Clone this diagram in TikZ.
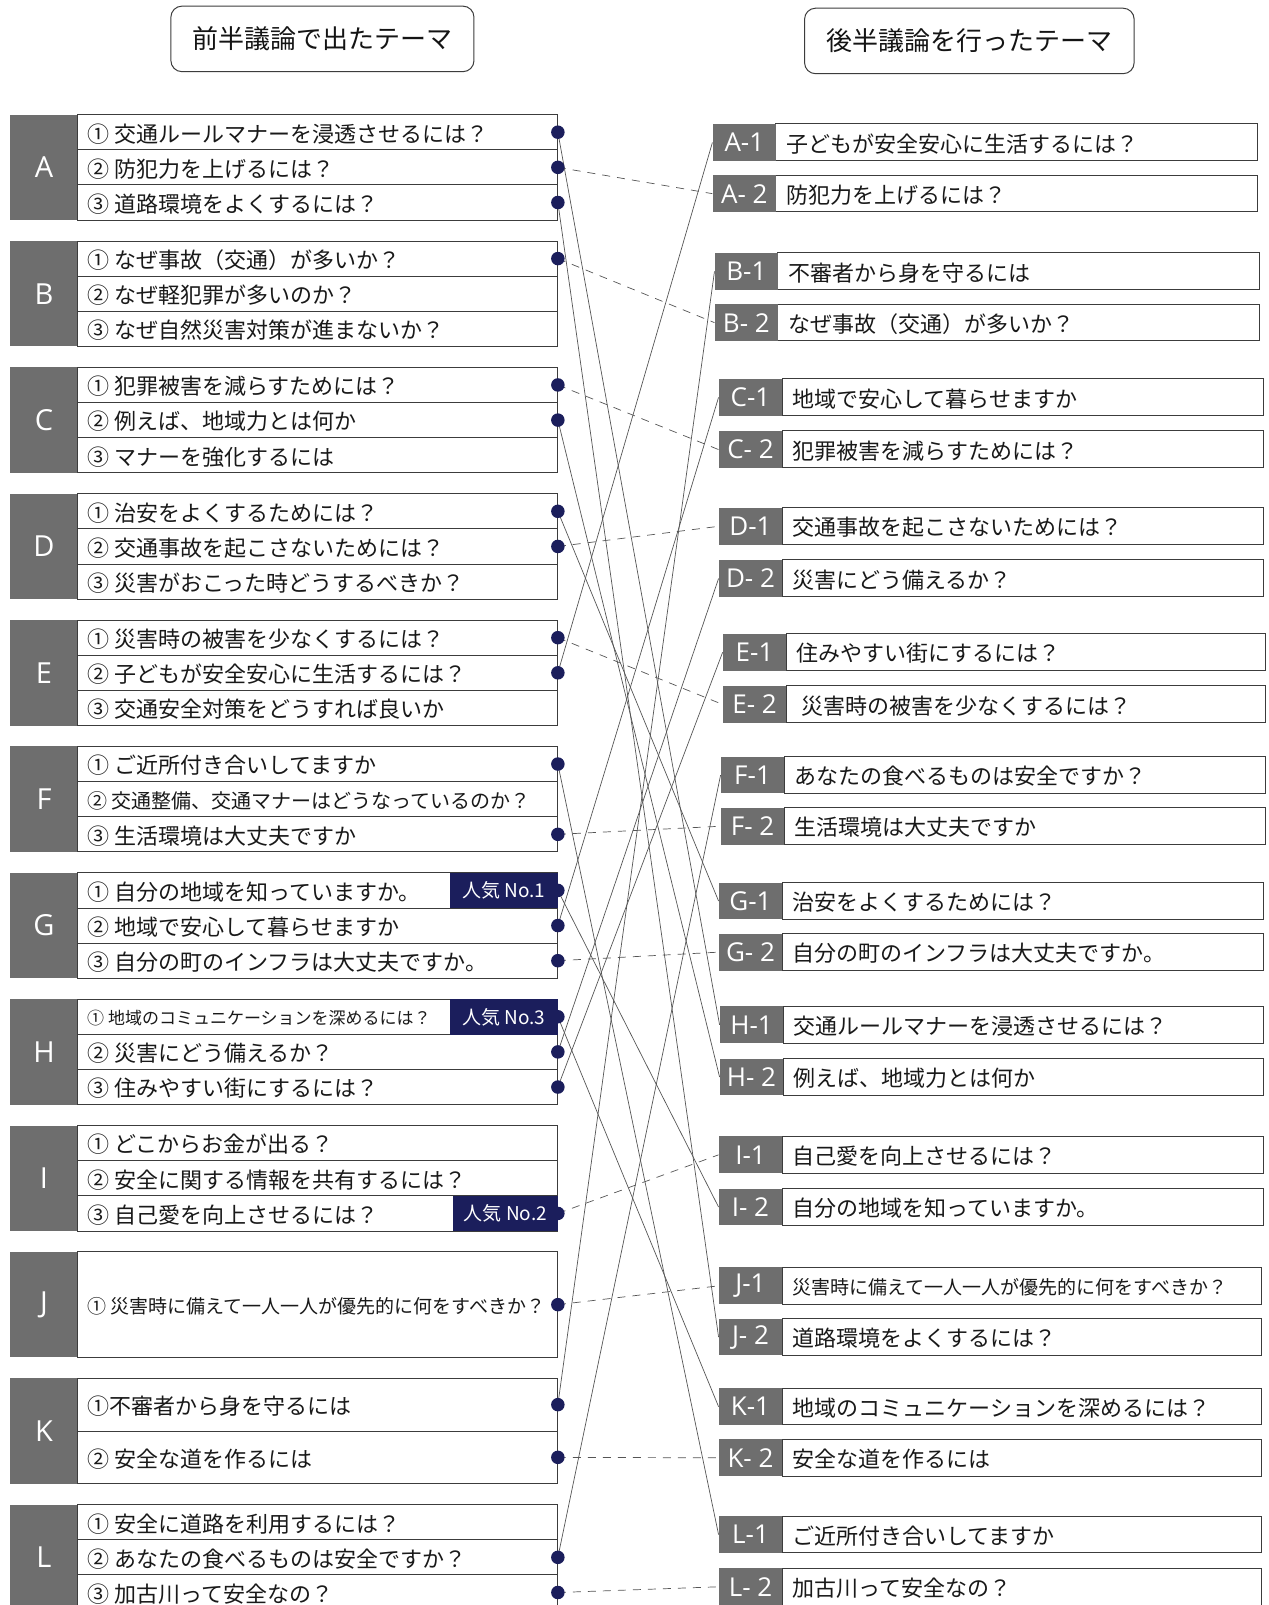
\documentclass[tikz,border=0pt]{standalone}
\usepackage{fontspec}
\setmainfont{Noto Sans CJK JP}
\newfontfamily\latf{Open Sans}
\definecolor{labgray}{RGB}{110,110,110}
\definecolor{navy}{RGB}{27,30,92}
\definecolor{boxline}{RGB}{60,60,60}
\definecolor{conngray}{RGB}{85,85,85}
\pgfdeclarelayer{dots}
\pgfdeclarelayer{badges}
\pgfsetlayers{main,dots,badges}
\tikzset{
  rowbox/.style={draw=boxline, line width=0.9pt, fill=white},
  itemtext/.style={anchor=west, inner sep=0pt, text=black!90, yshift=-1.5pt},
  biglet/.style={text=white, font=\latf\fontsize{29}{29}\selectfont},
  rlab/.style={fill=labgray, text=white, font=\latf\fontsize{26}{26}\selectfont, minimum width=63.45pt, minimum height=36.84pt, inner sep=0pt, anchor=north west},
  dotn/.style={circle, fill=navy, minimum size=13.5pt, inner sep=0pt},
  badge/.style={fill=navy, text=white, font=\fontsize{19}{19}\selectfont, minimum height=35.1pt, inner sep=0pt, anchor=north east},
  conn/.style={draw=conngray, line width=0.7pt},
  dconn/.style={conn, dash pattern=on 8pt off 7pt},
  head/.style={draw=boxline, line width=1pt, rounded corners=11pt, minimum height=65.5pt, font=\fontsize{26}{26}\selectfont, text=black!92},
}
% left group label
\newcommand\lgrpbox[2]{%
  \fill[labgray] (10,#2) rectangle (76,#2+103);
  \node[biglet] (G#1) at (43,#2+51.5) {#1};
}
% left row: name, top, height, fontsize, text
\newcommand\lrowbox[5]{%
  \draw[rowbox] (76,#2) rectangle (545,#2+#3);
  \node[itemtext, font=\fontsize{#4}{#4}\selectfont] (L#1) at (85,#2+#3/2) {#5};
  \coordinate (P#1) at (545,#2+#3/2);
}
% right box: name, label, xleft, ytop, xright, fontsize, text
\newcommand\rgtbox[7]{%
  \draw[rowbox] (#3+62,#4) rectangle (#5,#4+36);
  \node[rlab] (R#1) at (#3,#4) {#2};
  \node[itemtext, font=\fontsize{#6}{#6}\selectfont] (T#1) at (#3+72,#4+18) {#7};
}
\begin{document}
\begin{tikzpicture}[x=1.0234pt, y=-1.0234pt]
\useasboundingbox[fill=white] (0,0) rectangle (1239,1568);

% headers
\node[head, minimum width=303pt] (h1) at (315,38) {前半議論で出たテーマ};
\node[head, minimum width=329.5pt] (h2) at (947,40) {後半議論を行ったテーマ};

% ---------- left column ----------
\lgrpbox{A}{112}
\lrowbox{A1}{112}{34.333}{22}{① 交通ルールマナーを浸透させるには？}
\lrowbox{A2}{146.333}{34.333}{22}{② 防犯力を上げるには？}
\lrowbox{A3}{180.667}{34.333}{22}{③ 道路環境をよくするには？}

\lgrpbox{B}{235.45}
\lrowbox{B1}{235.45}{34.333}{22}{① なぜ事故（交通）が多いか？}
\lrowbox{B2}{269.78}{34.333}{22}{② なぜ軽犯罪が多いのか？}
\lrowbox{B3}{304.12}{34.333}{22}{③ なぜ自然災害対策が進まないか？}

\lgrpbox{C}{358.9}
\lrowbox{C1}{358.9}{34.333}{22}{① 犯罪被害を減らすためには？}
\lrowbox{C2}{393.23}{34.333}{22}{② 例えば、地域力とは何か}
\lrowbox{C3}{427.57}{34.333}{22}{③ マナーを強化するには}

\lgrpbox{D}{482.35}
\lrowbox{D1}{482.35}{34.333}{22}{① 治安をよくするためには？}
\lrowbox{D2}{516.68}{34.333}{22}{② 交通事故を起こさないためには？}
\lrowbox{D3}{551.02}{34.333}{22}{③ 災害がおこった時どうするべきか？}

\lgrpbox{E}{605.8}
\lrowbox{E1}{605.8}{34.333}{22}{① 災害時の被害を少なくするには？}
\lrowbox{E2}{640.13}{34.333}{22}{② 子どもが安全安心に生活するには？}
\lrowbox{E3}{674.47}{34.333}{22}{③ 交通安全対策をどうすれば良いか}

\lgrpbox{F}{729.25}
\lrowbox{F1}{729.25}{34.333}{22}{① ご近所付き合いしてますか}
\lrowbox{F2}{763.58}{34.333}{20}{② 交通整備、交通マナーはどうなっているのか？}
\lrowbox{F3}{797.92}{34.333}{22}{③ 生活環境は大丈夫ですか}

\lgrpbox{G}{852.7}
\lrowbox{G1}{852.7}{34.333}{22}{① 自分の地域を知っていますか。}
\lrowbox{G2}{887.03}{34.333}{22}{② 地域で安心して暮らせますか}
\lrowbox{G3}{921.37}{34.333}{22}{③ 自分の町のインフラは大丈夫ですか。}

\lgrpbox{H}{976.15}
\lrowbox{H1}{976.15}{34.333}{17}{① 地域のコミュニケーションを深めるには？}
\lrowbox{H2}{1010.48}{34.333}{22}{② 災害にどう備えるか？}
\lrowbox{H3}{1044.82}{34.333}{22}{③ 住みやすい街にするには？}

\lgrpbox{I}{1099.6}
\lrowbox{I1}{1099.6}{34.333}{22}{① どこからお金が出る？}
\lrowbox{I2}{1133.93}{34.333}{22}{② 安全に関する情報を共有するには？}
\lrowbox{I3}{1168.27}{34.333}{22}{③ 自己愛を向上させるには？}

\lgrpbox{J}{1223.05}
\lrowbox{J1}{1223.05}{103}{19}{① 災害時に備えて一人一人が優先的に何をすべきか？}

\lgrpbox{K}{1346.5}
\lrowbox{K1}{1346.5}{51.5}{22}{①不審者から身を守るには}
\lrowbox{K2}{1398}{51.5}{22}{② 安全な道を作るには}

\lgrpbox{L}{1469.95}
\lrowbox{L1}{1469.95}{34.333}{22}{① 安全に道路を利用するには？}
\lrowbox{L2}{1504.28}{34.333}{22}{② あなたの食べるものは安全ですか？}
\lrowbox{L3}{1538.62}{34.333}{22}{③ 加古川って安全なの？}

% ---------- right column ----------
\rgtbox{A1}{A-1}{696}{121}{1228}{22}{子どもが安全安心に生活するには？}
\rgtbox{A2}{A- 2}{696}{171}{1228}{22}{防犯力を上げるには？}
\rgtbox{B1}{B-1}{698}{247}{1230}{22}{不審者から身を守るには}
\rgtbox{B2}{B- 2}{698}{297}{1230}{22}{なぜ事故（交通）が多いか？}
\rgtbox{C1}{C-1}{702}{370}{1234}{22}{地域で安心して暮らせますか}
\rgtbox{C2}{C- 2}{702}{421}{1234}{22}{犯罪被害を減らすためには？}
\rgtbox{D1}{D-1}{702}{496}{1234}{22}{交通事故を起こさないためには？}
\rgtbox{D2}{D- 2}{702}{547}{1234}{22}{災害にどう備えるか？}
\rgtbox{E1}{E-1}{706}{619}{1236}{22}{住みやすい街にするには？}
\rgtbox{E2}{E- 2}{706}{670}{1236}{22}{\hspace{5pt}災害時の被害を少なくするには？}
\rgtbox{F1}{F-1}{704}{739}{1236}{22}{あなたの食べるものは安全ですか？}
\rgtbox{F2}{F- 2}{704}{789}{1236}{22}{生活環境は大丈夫ですか}
\rgtbox{G1}{G-1}{702}{862}{1234}{22}{治安をよくするためには？}
\rgtbox{G2}{G- 2}{702}{912}{1234}{22}{自分の町のインフラは大丈夫ですか。}
\rgtbox{H1}{H-1}{703}{983}{1234}{22}{交通ルールマナーを浸透させるには？}
\rgtbox{H2}{H- 2}{703}{1034}{1234}{22}{例えば、地域力とは何か}
\rgtbox{I1}{I-1}{702}{1110}{1234}{22}{自己愛を向上させるには？}
\rgtbox{I2}{I- 2}{702}{1161}{1234}{22}{自分の地域を知っていますか。}
\rgtbox{J1}{J-1}{702}{1238}{1232}{19}{災害時に備えて一人一人が優先的に何をすべきか？}
\rgtbox{J2}{J- 2}{702}{1288}{1232}{22}{道路環境をよくするには？}
\rgtbox{K1}{K-1}{702}{1356}{1232}{22}{地域のコミュニケーションを深めるには？}
\rgtbox{K2}{K- 2}{702}{1406}{1232}{22}{安全な道を作るには}
\rgtbox{L1}{L-1}{702}{1481}{1232}{22}{ご近所付き合いしてますか}
\rgtbox{L2}{L- 2}{702}{1532}{1232}{22}{加古川って安全なの？}

% ---------- dots ----------
\begin{pgfonlayer}{dots}
\foreach \n in {A1,A2,A3,B1,C1,C2,D1,D2,E1,E2,F1,F3,G1,G2,G3,H1,H2,H3,I3,J1,K1,K2,L2,L3}
  \node[dotn] (d\n) at (P\n) {};
\end{pgfonlayer}

% ---------- badges ----------
\begin{pgfonlayer}{badges}
\node[badge, minimum width=107.5pt] (bG1) at (545,852.7) {人気 No.1};
\node[badge, minimum width=107.5pt] (bH1) at (545,976.15) {人気 No.3};
\node[badge, minimum width=104.4pt] (bI3) at (545,1168.27) {人気 No.2};
\end{pgfonlayer}

% ---------- connectors ----------
% dashed (same group)
\foreach \a/\b in {A2/A2,B1/B2,C1/C2,D2/D1,E1/E2,F3/F2,G3/G2,I3/I1,J1/J1,K2/K2,L3/L2}
  \draw[dconn] (d\a.center) -- (R\b.west);
% solid
\foreach \a/\b in {A1/H1,A3/J2,C2/H2,D1/G1,E2/A1,F1/L1,G1/I2,G2/C1,H1/K1,H2/D2,H3/E1,K1/B1,L2/F1}
  \draw[conn] (d\a.center) -- (R\b.west);
\end{tikzpicture}
\end{document}
